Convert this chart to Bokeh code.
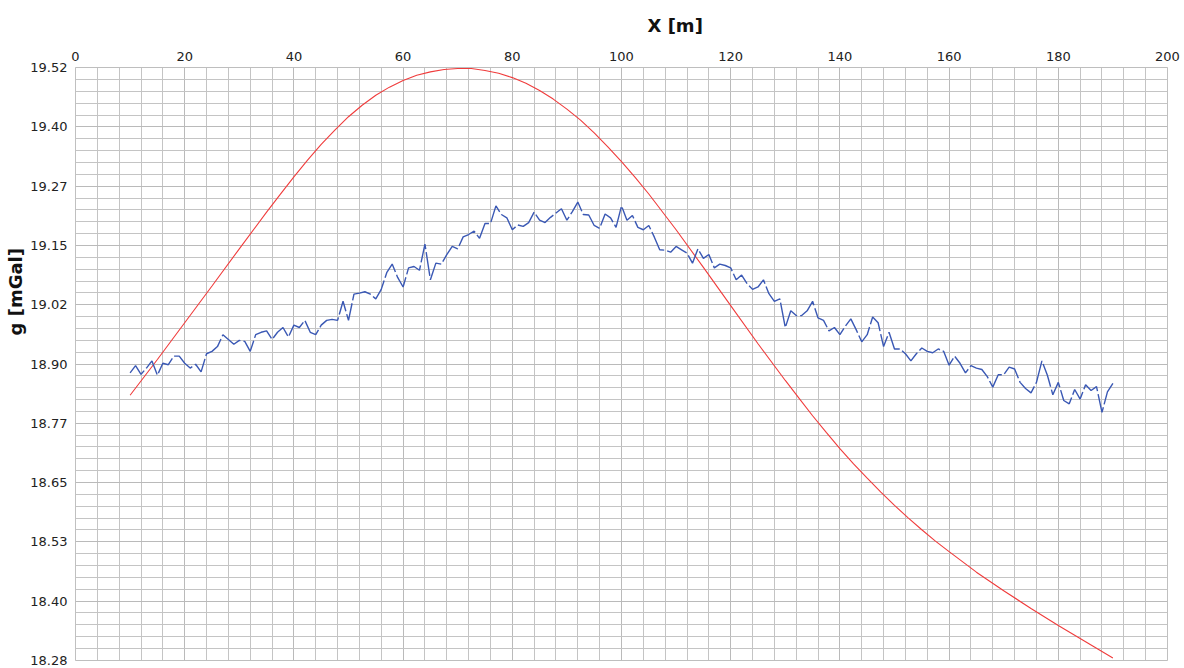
import numpy as np
from bokeh.plotting import figure
from bokeh.models import FixedTicker, NumeralTickFormatter, Range1d, Title
from bokeh.embed import file_html
from bokeh.resources import INLINE

# Measured gravity profile: station position [m] and observed g [mGal]
station_x = list(range(10, 191))
g_measured = [
    18.880, 18.895, 18.877, 18.890, 18.905, 18.875, 18.900, 18.897, 18.915, 18.915,
    18.900, 18.890, 18.898, 18.882, 18.920, 18.925, 18.935, 18.960, 18.950, 18.940,
    18.948, 18.946, 18.925, 18.960, 18.965, 18.968, 18.950, 18.965, 18.975, 18.955,
    18.980, 18.975, 18.990, 18.965, 18.960, 18.980, 18.990, 18.992, 18.990, 19.030,
    18.990, 19.045, 19.047, 19.050, 19.045, 19.035, 19.055, 19.090, 19.108, 19.080,
    19.060, 19.100, 19.103, 19.095, 19.150, 19.075, 19.110, 19.108, 19.128, 19.145,
    19.140, 19.165, 19.170, 19.177, 19.162, 19.193, 19.193, 19.230, 19.212, 19.205,
    19.180, 19.190, 19.187, 19.195, 19.217, 19.200, 19.195, 19.206, 19.215, 19.224,
    19.200, 19.218, 19.238, 19.212, 19.211, 19.189, 19.183, 19.213, 19.205, 19.185,
    19.230, 19.200, 19.210, 19.185, 19.180, 19.189, 19.165, 19.138, 19.137, 19.133,
    19.145, 19.138, 19.131, 19.110, 19.140, 19.120, 19.128, 19.100, 19.108, 19.105,
    19.100, 19.075, 19.085, 19.067, 19.055, 19.060, 19.075, 19.046, 19.030, 19.035,
    18.975, 19.010, 19.000, 19.000, 19.010, 19.030, 18.995, 18.990, 18.968, 18.975,
    18.960, 18.978, 18.993, 18.970, 18.945, 18.960, 18.997, 18.985, 18.935, 18.965,
    18.930, 18.930, 18.920, 18.905, 18.920, 18.932, 18.925, 18.922, 18.930, 18.925,
    18.896, 18.915, 18.900, 18.880, 18.895, 18.890, 18.887, 18.872, 18.850, 18.876,
    18.876, 18.892, 18.888, 18.860, 18.847, 18.838, 18.860, 18.905, 18.875, 18.834,
    18.860, 18.822, 18.815, 18.845, 18.825, 18.855, 18.843, 18.851, 18.797, 18.840,
    18.858,
]

# Model curve
model_x = [10, 15, 20, 25, 30, 35, 37.5, 40, 42.5, 45, 47.5, 50, 52.5, 55, 57.5,
           60, 62.5, 65, 67.5, 70, 72.5, 75, 77.5, 80, 82.5, 85, 87.5, 90, 92.5,
           95, 97.5, 100, 102.5, 105, 110, 115, 120, 125, 130, 132.5, 135, 137.5,
           140, 142.5, 145, 147.5, 150, 152.5, 155, 157.5, 160, 165, 170, 175,
           180, 185, 190]
g_model = [18.833, 18.908, 18.985, 19.062, 19.140, 19.217, 19.254, 19.291, 19.326,
           19.359, 19.389, 19.417, 19.441, 19.462, 19.479, 19.493, 19.504, 19.511,
           19.516, 19.518, 19.518, 19.514, 19.508, 19.499, 19.487, 19.472, 19.454,
           19.433, 19.410, 19.383, 19.354, 19.323, 19.290, 19.255, 19.180, 19.101,
           19.021, 18.941, 18.864, 18.827, 18.790, 18.755, 18.721, 18.689, 18.659,
           18.630, 18.602, 18.576, 18.551, 18.527, 18.505, 18.462, 18.423, 18.386,
           18.350, 18.316, 18.282]

x_ticks = list(range(0, 201, 20))
x_minor = list(range(0, 201, 4))
g_lo, g_hi = 18.277, 19.52
g_ticks = list(np.linspace(g_lo, g_hi, 11))
g_minor = list(np.linspace(g_lo, g_hi, 51))

p = figure(
    frame_width=1092, frame_height=593,
    x_range=Range1d(0, 200), y_range=Range1d(g_lo - 0.0002, g_hi + 0.0002),
    x_axis_location="above",
    output_backend="svg", toolbar_location=None,
    min_border_left=75, min_border_right=17, min_border_top=67, min_border_bottom=8,
    background_fill_color="white", border_fill_color="white",
)
p.outline_line_color = "#c0c0c0"

p.xaxis.ticker = FixedTicker(ticks=x_ticks, minor_ticks=x_minor)
p.yaxis.ticker = FixedTicker(ticks=g_ticks, minor_ticks=g_minor)
p.yaxis.formatter = NumeralTickFormatter(format="0.00")

for ax in p.axis:
    ax.axis_line_color = None
    ax.major_tick_line_color = None
    ax.minor_tick_line_color = None
    ax.major_label_text_font = "DejaVu Sans"
    ax.major_label_text_font_size = "13px"
    ax.major_label_text_color = "#222222"
p.xaxis.major_label_standoff = 1
p.yaxis.major_label_standoff = 2

p.grid.grid_line_color = "#bababa"
p.grid.minor_grid_line_color = "#c4c4c4"
p.grid.grid_line_width = 1
p.grid.minor_grid_line_width = 1

p.add_layout(Title(text="X [m]", align="left", offset=572, standoff=25,
                   text_line_height=0.8,
                   text_font="DejaVu Sans", text_font_size="18px",
                   text_font_style="bold", text_color="#111111"), "above")
p.add_layout(Title(text="g [mGal]", align="left", offset=325, standoff=3,
                   text_font="DejaVu Sans", text_font_size="18px",
                   text_font_style="bold", text_color="#111111"), "left")

p.line(model_x, g_model, line_color="#f03c3c", line_width=1.1)
p.line(station_x, g_measured, line_color="#3a58b4", line_width=1.4, line_dash="24 3")

open("out.html", "w").write(file_html(p, INLINE))
